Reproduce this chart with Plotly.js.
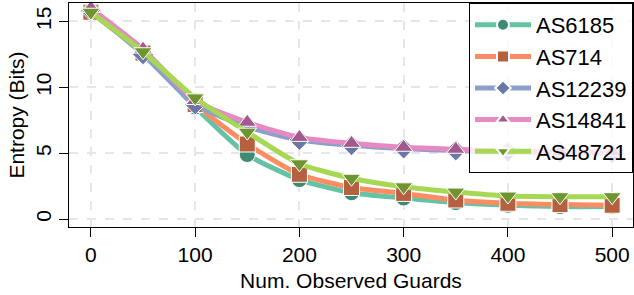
<!DOCTYPE html>
<html><head><meta charset="utf-8">
<script src="https://cdn.plot.ly/plotly-3.0.1.min.js"></script>
<style>html,body{margin:0;padding:0;background:#fff}</style>
</head><body>
<div id="chart" style="width:634px;height:295px"></div>
<script>
const guards = [0, 50, 100, 150, 200, 250, 300, 350, 400, 450, 500];
const AS6185 = [15.7, 12.6, 8.5, 4.9, 3.0, 2.0, 1.6, 1.25, 1.05, 0.95, 0.95];
const AS714 = [15.7, 12.6, 8.7, 5.7, 3.4, 2.4, 1.95, 1.45, 1.2, 1.1, 1.05];
const AS12239 = [15.8, 12.5, 8.7, 7.0, 6.0, 5.6, 5.35, 5.2, 5.1, 5.05, 5.0];
const AS14841 = [16.0, 12.9, 9.0, 7.35, 6.2, 5.75, 5.45, 5.3, 5.15, 5.1, 5.1];
const AS48721 = [15.7, 12.7, 9.2, 6.6, 4.2, 3.1, 2.45, 2.05, 1.75, 1.7, 1.7];
const names = ['AS6185', 'AS714', 'AS12239', 'AS14841', 'AS48721'];
const series = [AS6185, AS714, AS12239, AS14841, AS48721];
const lineColors = ['#66c2a5', '#fc8d62', '#8da0cb', '#e78ac3', '#a6d854'];
const markerColors = ['#3f8a74', '#b5603f', '#6878a8', '#a15a8b', '#6f9430'];
const symbols = ['circle', 'square', 'diamond', 'triangle-up', 'triangle-down'];

const traces = series.map((ys, i) => ({
  x: guards, y: ys, name: names[i], type: 'scatter', mode: 'lines+markers',
  line: {color: lineColors[i], width: 5, shape: 'spline', smoothing: 0.6},
  marker: {symbol: symbols[i], size: 16, color: markerColors[i], line: {color: '#ffffff', width: 1}}
}));

const fam = 'Liberation Sans, Arial, sans-serif';
const layout = {
  width: 634, height: 295,
  margin: {l: 69, r: 1, t: 3, b: 68},
  paper_bgcolor: '#fff', plot_bgcolor: '#fff',
  font: {family: fam, size: 21, color: '#000'},
  showlegend: true,
  legend: {x: 1, y: 1, xanchor: 'right', yanchor: 'top', bgcolor: 'rgba(255,255,255,0.8)',
    bordercolor: '#000', borderwidth: 1, font: {family: fam, size: 22, color: '#000'},
    tracegroupgap: 0, itemwidth: 56, itemsizing: 'constant'},
  xaxis: {
    range: [-21, 520], tickvals: [0, 100, 200, 300, 400, 500], ticks: 'outside', ticklen: 9,
    tickcolor: '#000', showline: true, linecolor: '#000', linewidth: 1, mirror: true,
    showgrid: true, gridcolor: '#e6e6e6', griddash: 'dash', gridwidth: 2, zeroline: false,
    tickfont: {size: 21},
    title: {text: 'Num. Observed Guards', font: {size: 21}, standoff: 8}
  },
  yaxis: {
    range: [-0.6, 16.4], tickvals: [0, 5, 10, 15], tickangle: -90, ticks: 'outside', ticklen: 9,
    tickcolor: '#000', showline: true, linecolor: '#000', linewidth: 1, mirror: true,
    showgrid: true, gridcolor: '#e6e6e6', griddash: 'dash', gridwidth: 2, zeroline: false,
    tickfont: {size: 21},
    title: {text: 'Entropy (Bits)', font: {size: 21}, standoff: 1}
  }
};
Plotly.newPlot('chart', traces, layout, {displayModeBar: false, staticPlot: true});
</script>
</body></html>
